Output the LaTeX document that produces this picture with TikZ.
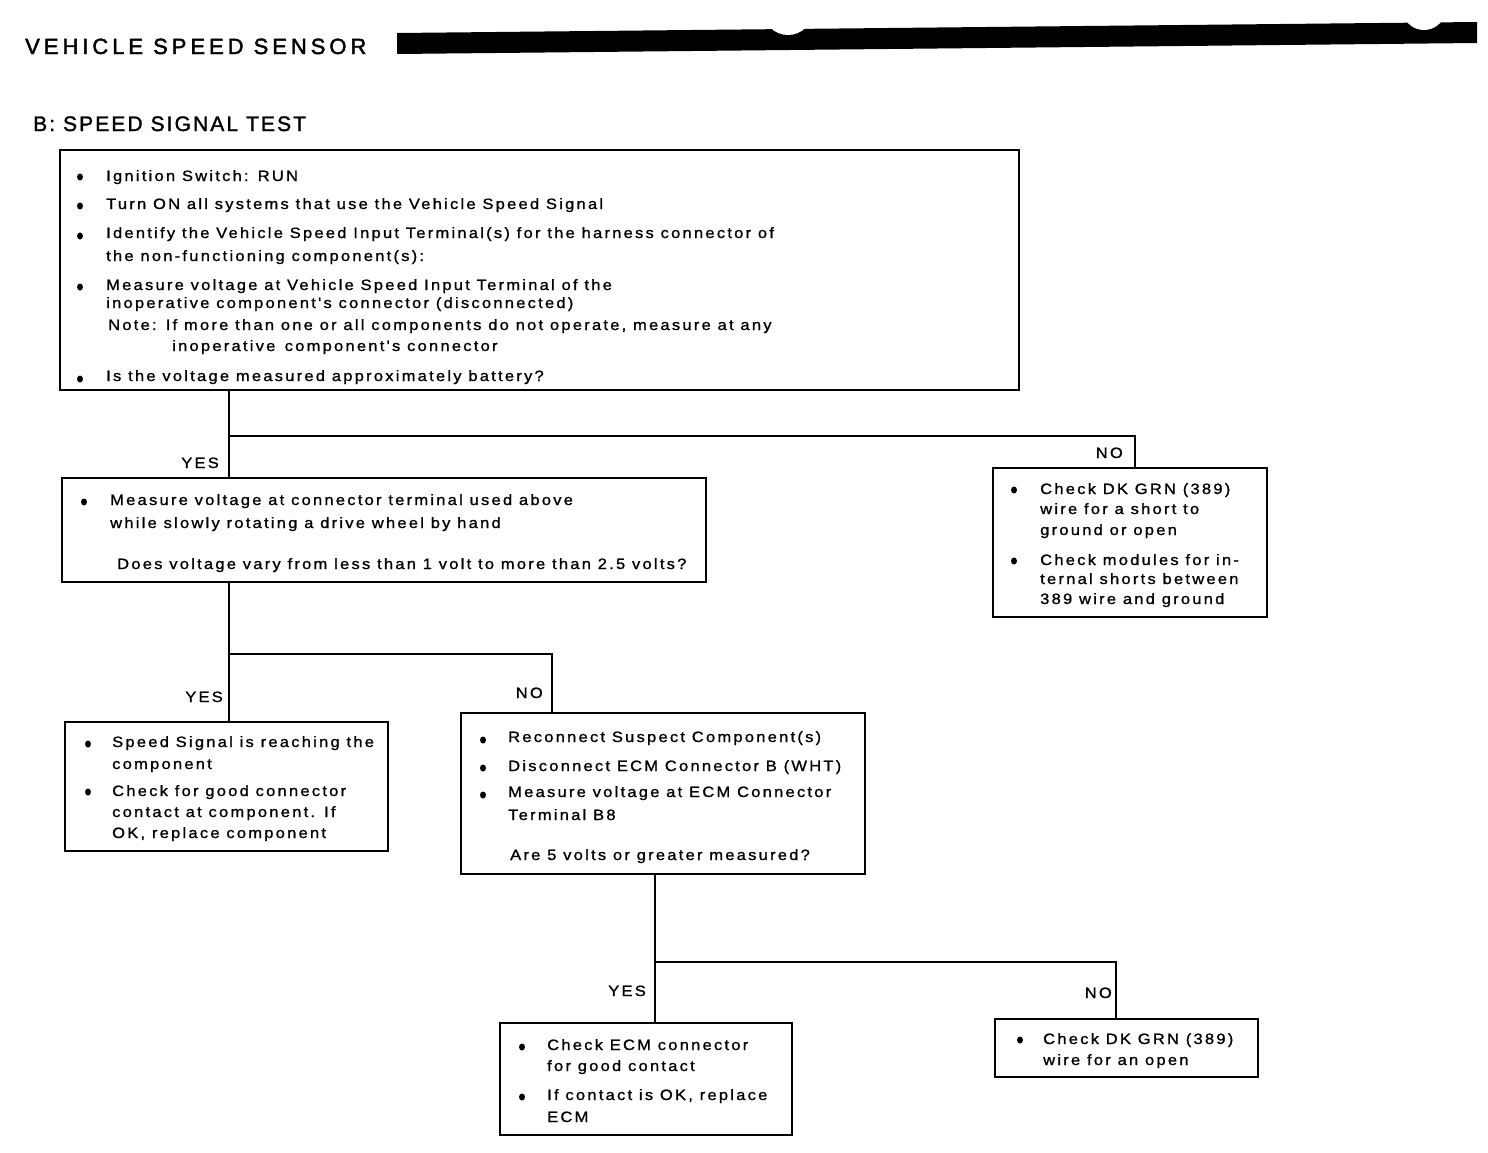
\documentclass[tikz,border=0pt]{standalone}
\usepackage{fontspec}
\usetikzlibrary{shapes.geometric}
\setmainfont{Liberation Sans}
\newfontfamily\bodyfont[LetterSpace=15,FakeStretch=1.1,FakeBold=1.1]{Liberation Sans}
\newfontfamily\headfont[LetterSpace=18,FakeBold=2]{Liberation Sans}
\newfontfamily\subheadfont[LetterSpace=10,FakeBold=1.5]{Liberation Sans}
\begin{document}
\begin{tikzpicture}[x=1pt,y=-1pt,
  box/.style={draw, line width=1.8pt, inner sep=0pt, outer sep=0pt, fill=none},
  conn/.style={line width=2.8pt},
  txt/.style={anchor=base west, inner sep=0pt, font=\bodyfont\fontsize{15}{18}\selectfont},
  lbl/.style={anchor=base east, inner sep=0pt, font=\bodyfont\fontsize{15}{18}\selectfont},
  dot/.style={ellipse, fill, inner sep=0pt, minimum width=6pt, minimum height=7pt}]
\useasboundingbox (0,0) rectangle (1488,1152);
\fill[white] (0,0) rectangle (1488,1152);

% header
\node[anchor=base west, inner sep=0pt, font=\headfont\fontsize{22}{24}\selectfont] (title) at (25,54) {VEHICLE SPEED SENSOR};
\fill (397,33) -- (1477,22) -- (1477,43) -- (397,54) -- cycle;
\fill[white] (788,10) circle (25);
\fill[white] (1424,8) circle (22);
\node[anchor=base west, inner sep=0pt, font=\subheadfont\fontsize{21}{23}\selectfont] (subtitle) at (33,131) {B: SPEED SIGNAL TEST};

% boxes
\node[box, minimum width=959pt, minimum height=240pt] (b1) at (539.5,270) {};
\node[box, minimum width=644pt, minimum height=104pt] (b2) at (384,530) {};
\node[box, minimum width=274pt, minimum height=149pt] (b3) at (1130,542.5) {};
\node[box, minimum width=323pt, minimum height=129pt] (b4) at (226.5,786.5) {};
\node[box, minimum width=404pt, minimum height=161pt] (b5) at (663,793.5) {};
\node[box, minimum width=292pt, minimum height=112pt] (b6) at (646,1079) {};
\node[box, minimum width=263pt, minimum height=58pt] (b7) at (1126.5,1048) {};

% connectors
\coordinate (j1) at (229,436);
\coordinate (n1) at (1135,436);
\coordinate (j2) at (229,654);
\coordinate (n2) at (552,654);
\coordinate (j3) at (655,962);
\coordinate (n3) at (1116,962);
\draw[conn] (b1.south -| j1) -- (b2.north -| j1);
\draw[conn] (j1) -- (n1) -- (b3.north -| n1);
\draw[conn] (b2.south -| j2) -- (b4.north -| j2);
\draw[conn] (j2) -- (n2) -- (b5.north -| n2);
\draw[conn] (b5.south -| j3) -- (b6.north -| j3);
\draw[conn] (j3) -- (n3) -- (b7.north -| n3);

% branch labels
\node[lbl] (yes1) at (219,468) {YES};
\node[lbl] (no1) at (1123,458) {NO};
\node[lbl] (yes2) at (223,702) {YES};
\node[lbl] (no2) at (543,698) {NO};
\node[lbl] (yes3) at (646,996) {YES};
\node[lbl] (no3) at (1112,998) {NO};

% box 1 text
\node[dot] (d11) at (80,177) {};
\node[txt] (t11) at (106,181) {Ignition Switch: RUN};
\node[dot] (d12) at (80,206) {};
\node[txt] (t12) at (106,209) {Turn ON all systems that use the Vehicle Speed Signal};
\node[dot] (d13) at (80,236) {};
\node[txt] (t13a) at (106,238) {Identify the Vehicle Speed Input Terminal(s) for the harness connector of};
\node[txt] (t13b) at (106,261) {the non-functioning component(s):};
\node[dot] (d14) at (80,287) {};
\node[txt] (t14a) at (106,290) {Measure voltage at Vehicle Speed Input Terminal of the};
\node[txt] (t14b) at (106,308) {inoperative component's connector (disconnected)};
\node[txt] (t14c) at (108,330) {Note: If more than one or all components do not operate, measure at any};
\node[txt] (t14d) at (172,351) {inoperative\, component's connector};
\node[dot] (d15) at (80,379) {};
\node[txt] (t15) at (106,381) {Is the voltage measured approximately battery?};

% box 2 text
\node[dot] (d21) at (84,502) {};
\node[txt] (t21a) at (110,505) {Measure voltage at connector terminal used above};
\node[txt] (t21b) at (110,528) {while slowly rotating a drive wheel by hand};
\node[txt] (t22) at (117,569) {Does voltage vary from less than 1 volt to more than 2.5 volts?};

% box 3 text
\node[dot] (d31) at (1014,490) {};
\node[txt] (t31a) at (1040,494) {Check DK GRN (389)};
\node[txt] (t31b) at (1040,514) {wire for a short to};
\node[txt] (t31c) at (1040,535) {ground or open};
\node[dot] (d32) at (1014,561) {};
\node[txt] (t32a) at (1040,565) {Check modules for in-};
\node[txt] (t32b) at (1040,584) {ternal shorts between};
\node[txt] (t32c) at (1040,604) {389 wire and ground};

% box 4 text
\node[dot] (d41) at (88,744) {};
\node[txt] (t41a) at (112,747) {Speed Signal is reaching the};
\node[txt] (t41b) at (112,769) {component};
\node[dot] (d42) at (88,792) {};
\node[txt] (t42a) at (112,796) {Check for good connector};
\node[txt] (t42b) at (112,817) {contact at component. If};
\node[txt] (t42c) at (112,838) {OK, replace component};

% box 5 text
\node[dot] (d51) at (483,740) {};
\node[txt] (t51) at (508,742) {Reconnect Suspect Component(s)};
\node[dot] (d52) at (483,768) {};
\node[txt] (t52) at (508,771) {Disconnect ECM Connector B (WHT)};
\node[dot] (d53) at (483,795) {};
\node[txt] (t53a) at (508,797) {Measure voltage at ECM Connector};
\node[txt] (t53b) at (508,820) {Terminal B8};
\node[txt] (t54) at (510,860) {Are 5 volts or greater measured?};

% box 6 text
\node[dot] (d61) at (522,1047) {};
\node[txt] (t61a) at (547,1050) {Check ECM connector};
\node[txt] (t61b) at (547,1071) {for good contact};
\node[dot] (d62) at (522,1097) {};
\node[txt] (t62a) at (547,1100) {If contact is OK, replace};
\node[txt] (t62b) at (547,1122) {ECM};

% box 7 text
\node[dot] (d71) at (1020,1040) {};
\node[txt] (t71a) at (1043,1044) {Check DK GRN (389)};
\node[txt] (t71b) at (1043,1065) {wire for an open};
\end{tikzpicture}
\end{document}
